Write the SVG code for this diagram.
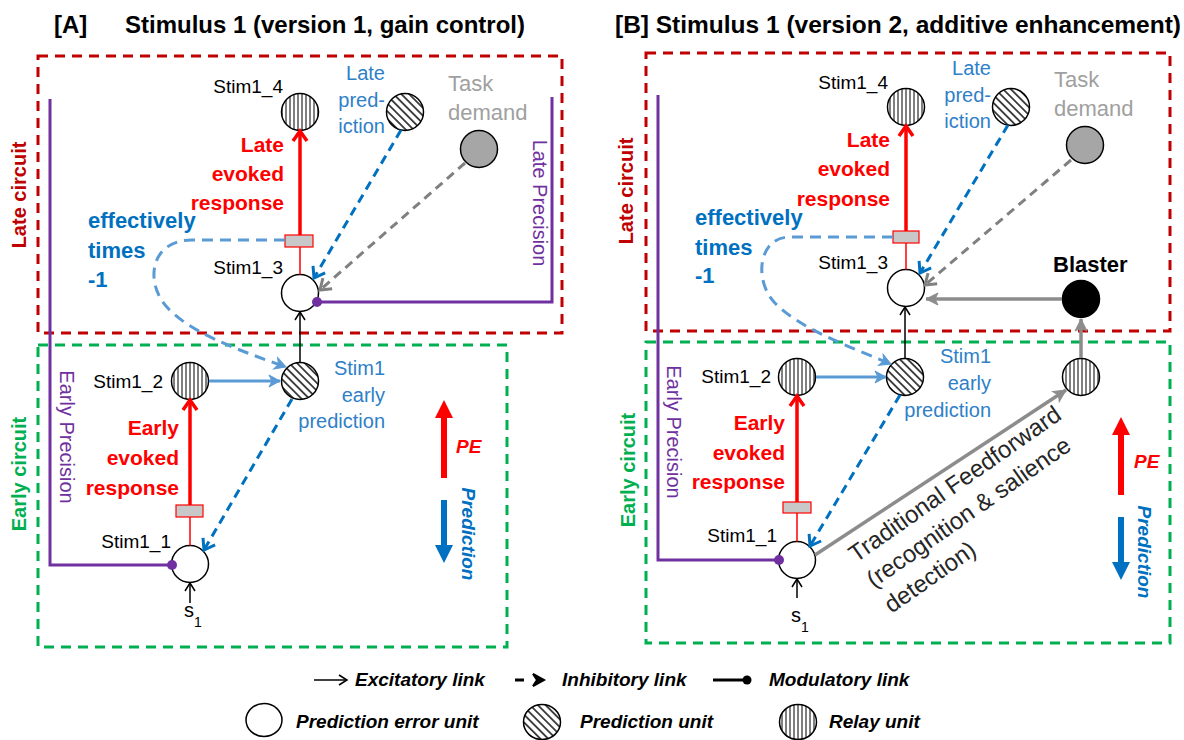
<svg xmlns="http://www.w3.org/2000/svg" width="1184" height="740" viewBox="0 0 1184 740">
<style>
text{font-family:"Liberation Sans",Arial,sans-serif}
.title{font-size:24px;font-weight:bold;fill:#000}
.lbl{font-size:20px;fill:#000}
.lbl-e{font-size:19px;fill:#000;text-anchor:end}
.blue{font-size:20px;fill:#2e80c8;text-anchor:end}
.gray{font-size:22px;fill:#a0a0a0}
.red{font-size:21px;font-weight:bold;fill:#ff0000;text-anchor:end}
.eff{font-size:22px;font-weight:bold;fill:#0070c0}
.circ{font-size:20px;font-weight:bold}
.prec{font-size:20px;fill:#7030a0;text-anchor:middle}
.pe{font-size:19px;font-weight:bold;font-style:italic;fill:#ff0000}
.pred{font-size:19px;font-weight:bold;font-style:italic;fill:#0070c0;text-anchor:middle}
.leg{font-size:19px;font-weight:bold;font-style:italic;fill:#000}
.ff{font-size:24px;fill:#262626}
.box-r{fill:none;stroke:#c00000;stroke-width:3;stroke-dasharray:10 7}
.box-g{fill:none;stroke:#00b050;stroke-width:3;stroke-dasharray:10 7}
.purp{fill:none;stroke:#7030a0;stroke-width:3;marker-end:url(#dot)}
.pe-node{fill:#fff;stroke:#000;stroke-width:1.5}
.relay{fill:url(#vh);stroke:#000;stroke-width:1.5}
.predn{fill:url(#dh);stroke:#000;stroke-width:1.5}
.task{fill:#a6a6a6;stroke:#000;stroke-width:1.5}
.blast{fill:#000;stroke:#000;stroke-width:1.5}
.ev{fill:none;stroke:#ff0000;stroke-width:3.5;marker-end:url(#aRed)}
.thin{fill:none;stroke:#ff0000;stroke-width:1.5}
.gbox{fill:#c8c8c8;stroke:#ff0000;stroke-width:1.2}
.inh{fill:none;stroke:#0070c0;stroke-width:3;stroke-dasharray:9 6;marker-end:url(#aBlue)}
.inhg{fill:none;stroke:#808080;stroke-width:3;stroke-dasharray:9 6;marker-end:url(#aGray)}
.loop{fill:none;stroke:#5b9bd5;stroke-width:3;stroke-dasharray:11 7;marker-end:url(#aLB)}
.lb{fill:none;stroke:#5b9bd5;stroke-width:3;marker-end:url(#aLB)}
.blk{fill:none;stroke:#000;stroke-width:1.5;marker-end:url(#aBlk)}
.gs{fill:none;stroke:#8c8c8c;stroke-width:3.5;marker-end:url(#aGS)}
</style>
<defs>
<pattern id="vh" width="4" height="4" patternUnits="userSpaceOnUse"><line x1="2" y1="0" x2="2" y2="4" stroke="#000" stroke-width="1"/></pattern>
<pattern id="dh" width="5.5" height="5.5" patternUnits="userSpaceOnUse" patternTransform="rotate(-45)"><line x1="2.75" y1="0" x2="2.75" y2="5.5" stroke="#000" stroke-width="1.4"/></pattern>
<marker id="aRed" markerUnits="userSpaceOnUse" viewBox="-12 -9 14 18" markerWidth="14" markerHeight="18" refX="0" refY="0" orient="auto" style="overflow:visible"><path d="M-10,-7 L0,0 L-10,7" fill="none" stroke="#ff0000" stroke-width="3.5"/></marker>
<marker id="aBlue" markerUnits="userSpaceOnUse" viewBox="-12 -9 14 18" markerWidth="14" markerHeight="18" refX="0" refY="0" orient="auto" style="overflow:visible"><path d="M-10,-7 L0,0 L-10,7" fill="none" stroke="#0070c0" stroke-width="3"/></marker>
<marker id="aGray" markerUnits="userSpaceOnUse" viewBox="-12 -9 14 18" markerWidth="14" markerHeight="18" refX="0" refY="0" orient="auto" style="overflow:visible"><path d="M-10,-7 L0,0 L-10,7" fill="none" stroke="#808080" stroke-width="3"/></marker>
<marker id="aLB" markerUnits="userSpaceOnUse" viewBox="-12 -9 14 18" markerWidth="14" markerHeight="18" refX="0" refY="0" orient="auto" style="overflow:visible"><path d="M-11,-6 L0,0 L-11,6 L-8,0 Z" fill="#5b9bd5" stroke="#5b9bd5" stroke-width="1"/></marker>
<marker id="aBlk" markerUnits="userSpaceOnUse" viewBox="-10 -7 12 14" markerWidth="12" markerHeight="14" refX="0" refY="0" orient="auto" style="overflow:visible"><path d="M-8,-5 L0,0 L-8,5" fill="none" stroke="#000" stroke-width="1.5"/></marker>
<marker id="aGS" markerUnits="userSpaceOnUse" viewBox="-12 -9 14 18" markerWidth="14" markerHeight="18" refX="0" refY="0" orient="auto" style="overflow:visible"><path d="M-12,-6 L0,0 L-12,6 L-9,0 Z" fill="#8c8c8c" stroke="#8c8c8c" stroke-width="1"/></marker>
<marker id="dot" markerUnits="userSpaceOnUse" viewBox="-6 -6 12 12" markerWidth="12" markerHeight="12" refX="0" refY="0" orient="auto" style="overflow:visible"><circle cx="0" cy="0" r="5" fill="#7030a0"/></marker>
</defs>
<rect width="1184" height="740" fill="#fff"/>

<!-- Titles -->
<text class="title" x="54" y="33">[A]</text>
<text class="title" x="125" y="33" textLength="400" lengthAdjust="spacingAndGlyphs">Stimulus 1 (version 1, gain control)</text>
<text class="title" x="615" y="33" textLength="566" lengthAdjust="spacingAndGlyphs">[B] Stimulus 1 (version 2, additive enhancement)</text>

<!-- Circuit boxes -->
<g id="boxes">
<rect class="box-r" x="38" y="56" width="524" height="277"/>
<rect class="box-g" x="38" y="345" width="469" height="302"/>
<rect class="box-r" x="646" y="53" width="524" height="278"/>
<rect class="box-g" x="646" y="342" width="524" height="301"/>
<text class="circ" fill="#c00000" text-anchor="middle" transform="translate(19,195) rotate(-90)" y="7">Late circuit</text>
<text class="circ" fill="#00b050" text-anchor="middle" transform="translate(19,474) rotate(-90)" y="7">Early circuit</text>
<text class="circ" fill="#c00000" text-anchor="middle" transform="translate(626,191) rotate(-90)" y="7">Late circuit</text>
<text class="circ" fill="#00b050" text-anchor="middle" transform="translate(628,470) rotate(-90)" y="7">Early circuit</text>
</g>

<!-- Panel A nodes -->
<g id="A-stim1_4"><ellipse class="relay" cx="300" cy="112" rx="18.5" ry="18.5"/><text class="lbl-e" x="283" y="93">Stim1_4</text></g>
<g id="A-late-prediction"><ellipse class="predn" cx="405" cy="112" rx="18.5" ry="18.5"/><text class="blue" x="385" y="80">Late</text><text class="blue" x="385" y="107">pred-</text><text class="blue" x="385" y="133">iction</text></g>
<g id="A-task-demand"><ellipse class="task" cx="479" cy="149" rx="18.5" ry="18.5"/><text class="gray" x="448" y="91">Task</text><text class="gray" x="448" y="120">demand</text></g>
<g id="A-stim1_3"><ellipse class="pe-node" cx="300" cy="293" rx="18.5" ry="18.5"/><text class="lbl-e" x="283" y="274">Stim1_3</text></g>
<g id="A-early-prediction"><ellipse class="predn" cx="300" cy="381" rx="18.5" ry="18.5"/><text class="blue" x="385" y="375">Stim1</text><text class="blue" x="385" y="402">early</text><text class="blue" x="385" y="428">prediction</text></g>
<g id="A-stim1_2"><ellipse class="relay" cx="190" cy="381" rx="18.5" ry="18.5"/><text class="lbl-e" x="163" y="388">Stim1_2</text></g>
<g id="A-stim1_1"><ellipse class="pe-node" cx="190" cy="564" rx="18.5" ry="18.5"/><text class="lbl-e" x="171" y="548">Stim1_1</text></g>
<g id="A-labels">
<text class="red" x="284" y="152">Late</text><text class="red" x="284" y="181">evoked</text><text class="red" x="284" y="210">response</text>
<text class="eff" x="88" y="228">effectively</text><text class="eff" x="88" y="258">times</text><text class="eff" x="88" y="287">-1</text>
<text class="red" x="179" y="435">Early</text><text class="red" x="179" y="465">evoked</text><text class="red" x="179" y="495">response</text>
<text class="prec" transform="translate(540,203) rotate(90)" y="7">Late Precision</text>
<text class="prec" transform="translate(67,437) rotate(90)" y="7">Early Precision</text>
<text class="lbl" x="184" y="617">s</text><text x="194" y="627" style="font-size:14px">1</text>
<text class="pe" x="456" y="453">PE</text>
<text class="pred" transform="translate(469,534) rotate(90)" y="7">Prediction</text>
</g>

<!-- Panel B nodes -->
<g id="B-stim1_4"><ellipse class="relay" cx="906" cy="107" rx="18.5" ry="18.5"/><text class="lbl-e" x="888" y="89">Stim1_4</text></g>
<g id="B-late-prediction"><ellipse class="predn" cx="1011" cy="107" rx="18.5" ry="18.5"/><text class="blue" x="991" y="75">Late</text><text class="blue" x="991" y="102">pred-</text><text class="blue" x="991" y="128">iction</text></g>
<g id="B-task-demand"><ellipse class="task" cx="1085" cy="145" rx="18.5" ry="18.5"/><text class="gray" x="1054" y="87">Task</text><text class="gray" x="1054" y="116">demand</text></g>
<g id="B-stim1_3"><ellipse class="pe-node" cx="906" cy="288" rx="18.5" ry="18.5"/><text class="lbl-e" x="888" y="269">Stim1_3</text></g>
<g id="B-blaster"><ellipse class="blast" cx="1081" cy="299" rx="18.5" ry="18.5"/><text x="1053" y="272" style="font-size:22px;font-weight:bold">Blaster</text></g>
<g id="B-early-prediction"><ellipse class="predn" cx="905" cy="377" rx="18.5" ry="18.5"/><text class="blue" x="991" y="363">Stim1</text><text class="blue" x="991" y="390">early</text><text class="blue" x="991" y="417">prediction</text></g>
<g id="B-stim1_2"><ellipse class="relay" cx="797" cy="377" rx="18.5" ry="18.5"/><text class="lbl-e" x="771" y="383">Stim1_2</text></g>
<g id="B-relay"><ellipse class="relay" cx="1081" cy="377" rx="18.5" ry="18.5"/></g>
<g id="B-stim1_1"><ellipse class="pe-node" cx="797" cy="560" rx="18.5" ry="18.5"/><text class="lbl-e" x="777" y="542">Stim1_1</text></g>
<g id="B-labels">
<text class="red" x="890" y="147">Late</text><text class="red" x="890" y="176">evoked</text><text class="red" x="890" y="206">response</text>
<text class="eff" x="695" y="225">effectively</text><text class="eff" x="695" y="255">times</text><text class="eff" x="695" y="283">-1</text>
<text class="red" x="785" y="430">Early</text><text class="red" x="785" y="460">evoked</text><text class="red" x="785" y="489">response</text>
<text class="prec" transform="translate(674,432) rotate(90)" y="7">Early Precision</text>
<text class="lbl" x="791" y="622">s</text><text x="801" y="632" style="font-size:14px">1</text>
<g transform="translate(856,563) rotate(-35)"><text class="ff" x="0" y="0">Traditional Feedforward</text><text class="ff" x="0" y="31">(recognition &amp; salience</text><text class="ff" x="0" y="62">detection)</text></g>
<text class="pe" x="1134" y="468">PE</text>
<text class="pred" transform="translate(1145,552) rotate(90)" y="7">Prediction</text>
</g>

<!-- Connectors -->
<g id="connectors">
<!-- Panel A -->
<path class="purp" d="M50,99 V565 H172"/>
<path class="purp" d="M552,97 V302 H317"/>
<path class="ev" d="M300,235 V131"/>
<path class="thin" d="M300,247 V274.5"/>
<rect class="gbox" x="285" y="235" width="28" height="12"/>
<path class="inh" d="M401,130 L314,278"/>
<path class="inhg" d="M465,163 L320,290"/>
<path class="blk" d="M300,362 V312"/>
<path class="loop" d="M285,240 H192 C150,240 145,282 166,306 C188,332 238,350 286,367"/>
<path class="lb" d="M209,381 H280"/>
<path class="inh" d="M292,399 L204,550"/>
<path class="ev" d="M190,505 V400"/>
<path class="thin" d="M190,517 V545.5"/>
<rect class="gbox" x="176" y="505" width="27" height="12"/>
<path class="blk" d="M190,603 V583"/>
<path d="M441,478 V418 H435 L444,400 L453,418 H447 V478 Z" fill="#ff0000"/>
<path d="M441,500 V545 H435 L444,563 L453,545 H447 V500 Z" fill="#0070c0"/>
<!-- Panel B -->
<path class="purp" d="M658,95 V560 H779"/>
<path class="ev" d="M906,231 V126"/>
<path class="thin" d="M906,243 V269.5"/>
<rect class="gbox" x="893" y="231" width="26" height="12"/>
<path class="inh" d="M1008,125 L920,273"/>
<path class="inhg" d="M1071,160 L925,285"/>
<path class="gs" d="M1062,299 H926"/>
<path class="blk" d="M905,358 V307"/>
<path class="gs" d="M1081,358 V319"/>
<path class="loop" d="M893,237 H790 C758,237 754,280 774,302 C798,328 850,347 891,364"/>
<path class="lb" d="M816,377 H886"/>
<path class="inh" d="M900,395 L810,546"/>
<path class="gs" d="M815,555 L1066,390"/>
<path class="ev" d="M797,502 V396"/>
<path class="thin" d="M797,513 V541.5"/>
<rect class="gbox" x="783" y="502" width="28" height="11"/>
<path class="blk" d="M797,598 V579"/>
<path d="M1118,495 V435 H1112 L1121,417 L1130,435 H1124 V495 Z" fill="#ff0000"/>
<path d="M1118,517 V562 H1112 L1121,580 L1130,562 H1124 V517 Z" fill="#0070c0"/>
</g>

<!-- Legend -->
<g id="legend">
<path class="blk" d="M314,680 H347"/>
<text class="leg" x="355" y="686">Excitatory link</text>
<path d="M515,680 H524" stroke="#000" stroke-width="3"/>
<path d="M533,674 L544,680 L533,686 L537,680 Z" fill="#000" stroke="#000" stroke-width="2"/>
<text class="leg" x="562" y="686">Inhibitory link</text>
<path d="M713,680 H746" stroke="#000" stroke-width="3"/>
<circle cx="747" cy="680" r="4.5" fill="#000"/>
<text class="leg" x="769" y="686">Modulatory link</text>
<ellipse class="pe-node" cx="264" cy="720" rx="18" ry="16.5"/>
<text class="leg" x="296" y="728">Prediction error unit</text>
<ellipse class="predn" cx="542" cy="722" rx="18.5" ry="17.5"/>
<text class="leg" x="580" y="728">Prediction unit</text>
<ellipse class="relay" cx="798" cy="722" rx="18.5" ry="17.5"/>
<text class="leg" x="829" y="728">Relay unit</text>
</g>
</svg>
